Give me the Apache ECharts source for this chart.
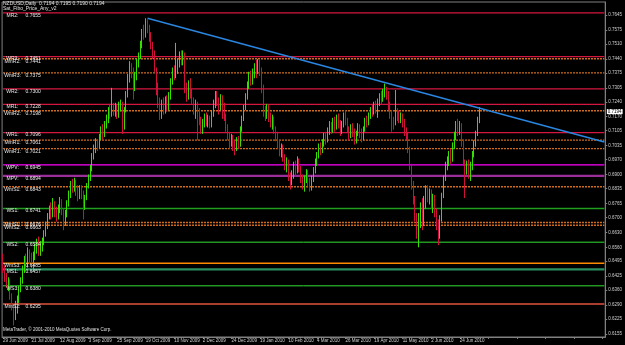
<!DOCTYPE html>
<html><head><meta charset="utf-8">
<script src="https://cdn.jsdelivr.net/npm/echarts@6/dist/echarts.min.js"></script>
<style>html,body{margin:0;padding:0;background:#000;}#c{width:625px;height:345px;}</style>
</head><body><div id="c"></div>
<script>
// Daily NZDUSD candles: [open, close, low, high]
const ohlc = [
[.6520,.6455,.6440,.6530],[.6455,.6420,.6398,.6475],[.6420,.6385,.6370,.6440],[.6385,.6400,.6355,.6420],[.6400,.6330,.6315,.6410],
[.6330,.6290,.6265,.6345],[.6290,.6250,.6195,.6300],[.6250,.6270,.6220,.6310],[.6270,.6320,.6250,.6335],[.6320,.6365,.6300,.6380],
[.6365,.6405,.6350,.6420],[.6405,.6460,.6390,.6475],[.6460,.6500,.6440,.6520],[.6500,.6475,.6450,.6530],[.6475,.6530,.6465,.6560],
[.6530,.6510,.6480,.6550],[.6510,.6460,.6445,.6535],[.6460,.6515,.6450,.6540],[.6515,.6555,.6500,.6575],[.6555,.6580,.6530,.6600],
[.6580,.6545,.6520,.6610],[.6545,.6560,.6520,.6590],[.6560,.6590,.6540,.6605],[.6590,.6625,.6570,.6640],[.6625,.6660,.6610,.6680],
[.6660,.6705,.6645,.6720],[.6705,.6740,.6690,.6755],[.6740,.6715,.6690,.6770],[.6715,.6760,.6700,.6790],[.6760,.6735,.6700,.6775],
[.6735,.6700,.6680,.6750],[.6700,.6745,.6690,.6760],[.6745,.6770,.6720,.6795],[.6770,.6730,.6710,.6785],[.6730,.6680,.6640,.6740],
[.6680,.6720,.6660,.6735],[.6720,.6765,.6700,.6780],[.6765,.6810,.6750,.6825],[.6810,.6855,.6790,.6870],[.6855,.6840,.6815,.6880],
[.6840,.6865,.6820,.6885],[.6865,.6830,.6800,.6875],[.6830,.6795,.6775,.6850],[.6795,.6835,.6785,.6850],[.6835,.6810,.6785,.6850],
[.6810,.6745,.6690,.6825],[.6745,.6790,.6735,.6805],[.6790,.6850,.6780,.6860],[.6850,.6885,.6835,.6900],[.6885,.6930,.6870,.6945],
[.6930,.6985,.6915,.7000],[.6985,.7020,.6970,.7040],[.7020,.7050,.7000,.7070],[.7050,.7030,.7010,.7065],[.7030,.7075,.7020,.7090],
[.7075,.7110,.7060,.7125],[.7110,.7085,.7060,.7135],[.7085,.7130,.7075,.7150],[.7130,.7160,.7115,.7180],[.7160,.7200,.7140,.7215],
[.7200,.7190,.7160,.7230],[.7190,.7220,.7170,.7305],[.7220,.7190,.7175,.7235],[.7190,.7215,.7170,.7235],[.7215,.7175,.7160,.7225],
[.7175,.7210,.7165,.7240],[.7210,.7230,.7195,.7250],[.7230,.7120,.7090,.7240],[.7120,.7200,.7110,.7215],[.7200,.7270,.7190,.7290],
[.7270,.7350,.7260,.7370],[.7350,.7400,.7330,.7430],[.7400,.7380,.7350,.7420],[.7380,.7300,.7250,.7400],[.7300,.7360,.7290,.7380],
[.7360,.7420,.7340,.7440],[.7420,.7455,.7400,.7470],[.7455,.7510,.7440,.7525],[.7510,.7570,.7490,.7580],[.7570,.7545,.7530,.7600],
[.7545,.7610,.7540,.7630],[.7610,.7580,.7560,.7625],[.7580,.7540,.7520,.7600],[.7540,.7500,.7485,.7565],[.7500,.7460,.7440,.7520],
[.7460,.7390,.7380,.7480],[.7390,.7320,.7270,.7400],[.7320,.7240,.7210,.7330],[.7240,.7180,.7155,.7260],[.7180,.7230,.7160,.7250],
[.7230,.7200,.7180,.7260],[.7200,.7240,.7185,.7265],[.7240,.7210,.7195,.7270],[.7210,.7260,.7200,.7285],[.7260,.7330,.7250,.7350],
[.7330,.7380,.7320,.7400],[.7380,.7360,.7340,.7410],[.7360,.7400,.7350,.7515],[.7400,.7420,.7370,.7440],[.7420,.7450,.7400,.7475],
[.7450,.7430,.7410,.7480],[.7430,.7460,.7410,.7480],[.7460,.7300,.7280,.7470],[.7300,.7270,.7240,.7330],[.7270,.7320,.7250,.7340],
[.7320,.7280,.7255,.7350],[.7280,.7250,.7230,.7300],[.7250,.7200,.7180,.7260],[.7200,.7230,.7160,.7250],[.7230,.7190,.7060,.7240],
[.7190,.7150,.7130,.7210],[.7150,.7110,.7090,.7170],[.7110,.7130,.7090,.7160],[.7130,.7170,.7120,.7185],[.7170,.7140,.7125,.7190],
[.7140,.7160,.7120,.7180],[.7160,.7130,.7115,.7175],[.7130,.7180,.7120,.7200],[.7180,.7230,.7170,.7250],[.7230,.7270,.7210,.7290],
[.7270,.7240,.7220,.7290],[.7240,.7210,.7180,.7260],[.7210,.7250,.7200,.7275],[.7250,.7220,.7160,.7270],[.7220,.7170,.7150,.7235],
[.7170,.7120,.7100,.7185],[.7120,.7080,.7060,.7135],[.7080,.7050,.7020,.7100],[.7050,.7070,.7030,.7090],[.7070,.7040,.7010,.7085],
[.7040,.7020,.6990,.7060],[.7020,.7060,.7010,.7075],[.7060,.7040,.7020,.7080],[.7040,.7110,.7030,.7125],[.7110,.7160,.7100,.7175],
[.7160,.7210,.7150,.7225],[.7210,.7260,.7200,.7280],[.7260,.7320,.7250,.7335],[.7320,.7360,.7300,.7380],[.7360,.7340,.7315,.7385],
[.7340,.7370,.7320,.7395],[.7370,.7400,.7350,.7420],[.7400,.7380,.7350,.7435],[.7380,.7420,.7370,.7440],[.7420,.7390,.7360,.7435],
[.7390,.7300,.7280,.7400],[.7300,.7200,.7170,.7320],[.7200,.7180,.7150,.7220],[.7180,.7210,.7160,.7230],[.7210,.7170,.7145,.7225],
[.7170,.7140,.7120,.7190],[.7140,.7160,.7110,.7180],[.7160,.7110,.7090,.7170],[.7110,.7080,.7055,.7125],[.7080,.7040,.7020,.7100],
[.7040,.7000,.6985,.7060],[.7000,.7030,.6980,.7045],[.7030,.6980,.6960,.7040],[.6980,.6940,.6920,.6995],[.6940,.6960,.6910,.6980],
[.6960,.6900,.6870,.6970],[.6900,.6860,.6830,.6910],[.6860,.6900,.6850,.6920],[.6900,.6940,.6880,.6960],[.6940,.6920,.6890,.6965],
[.6920,.6960,.6905,.6985],[.6960,.6930,.6910,.6975],[.6930,.6880,.6860,.6940],[.6880,.6850,.6830,.6900],[.6850,.6880,.6820,.6895],
[.6880,.6910,.6860,.6925],[.6910,.6870,.6845,.6920],[.6870,.6840,.6820,.6885],[.6840,.6880,.6825,.6895],[.6880,.6920,.6865,.6935],
[.6920,.6960,.6905,.6975],[.6960,.6990,.6940,.7005],[.6990,.7030,.6975,.7045],[.7030,.7010,.6990,.7050],[.7010,.7050,.7000,.7065],
[.7050,.7080,.7030,.7095],[.7080,.7060,.7040,.7100],[.7060,.7100,.7050,.7120],[.7100,.7130,.7085,.7150],[.7130,.7110,.7090,.7145],
[.7110,.7150,.7095,.7165],[.7150,.7120,.7100,.7170],[.7120,.7160,.7110,.7180],[.7160,.7140,.7115,.7185],[.7140,.7100,.7080,.7155],
[.7100,.7130,.7090,.7150],[.7130,.7170,.7120,.7190],[.7170,.7150,.7130,.7200],[.7150,.7110,.7095,.7165],[.7110,.7080,.7060,.7125],
[.7080,.7120,.7070,.7135],[.7120,.7100,.7075,.7140],[.7100,.7060,.7040,.7115],[.7060,.7090,.7045,.7105],[.7090,.7120,.7080,.7140],
[.7120,.7100,.7070,.7135],[.7100,.7070,.7050,.7115],[.7070,.7110,.7060,.7125],[.7110,.7150,.7100,.7165],[.7150,.7140,.7120,.7175],
[.7140,.7170,.7130,.7190],[.7170,.7200,.7160,.7215],[.7200,.7190,.7170,.7225],[.7190,.7220,.7180,.7240],[.7220,.7210,.7185,.7245],
[.7210,.7240,.7165,.7255],[.7240,.7260,.7220,.7280],[.7260,.7250,.7225,.7290],[.7250,.7280,.7240,.7300],[.7280,.7290,.7260,.7325],
[.7290,.7270,.7250,.7310],[.7270,.7220,.7200,.7290],[.7220,.7180,.7160,.7240],[.7180,.7150,.7100,.7200],[.7150,.7140,.7110,.7170],
[.7140,.7200,.7130,.7295],[.7200,.7180,.7150,.7210],[.7180,.7160,.7140,.7200],[.7160,.7175,.7140,.7190],[.7175,.7140,.7120,.7185],
[.7140,.7100,.7080,.7160],[.7100,.7080,.7060,.7120],[.7080,.7020,.7000,.7095],[.7020,.6940,.6920,.7030],[.6940,.6860,.6830,.6950],
[.6860,.6780,.6760,.6870],[.6780,.6700,.6680,.6800],[.6700,.6660,.6600,.6720],[.6660,.6700,.6560,.6720],[.6700,.6750,.6650,.6770],
[.6750,.6680,.6640,.6790],[.6680,.6760,.6660,.6800],[.6760,.6820,.6740,.6850],[.6820,.6790,.6770,.6850],[.6790,.6810,.6760,.6835],
[.6810,.6760,.6740,.6830],[.6760,.6790,.6720,.6810],[.6790,.6720,.6700,.6805],[.6720,.6680,.6640,.6740],[.6680,.6620,.6570,.6690],
[.6620,.6690,.6600,.6710],[.6690,.6800,.6680,.6815],[.6800,.6880,.6790,.6895],[.6880,.6940,.6870,.6960],[.6940,.6960,.6920,.6985],
[.6960,.6990,.6940,.7010],[.6990,.6970,.6950,.7020],[.6970,.7030,.6960,.7050],[.7030,.7080,.7020,.7100],[.7080,.7120,.7060,.7150],
[.7120,.7100,.7080,.7160],[.7100,.7130,.7085,.7150],[.7130,.7050,.7030,.7140],[.7050,.6960,.6940,.7060],[.6960,.6920,.6790,.6970],
[.6920,.6950,.6900,.6965],[.6950,.6900,.6880,.6970],[.6900,.6940,.6870,.6960],[.6940,.6990,.6920,.7010],[.6990,.7040,.6980,.7060],
[.7040,.7090,.7030,.7105],[.7090,.7150,.7080,.7170],[.7150,.7194,.7140,.7215]
];
// x-axis tick labels, one every 16 bars
const dateLabels = ['29 Jun 2009','21 Jul 2009','12 Aug 2009','3 Sep 2009','25 Sep 2009','19 Oct 2009','10 Nov 2009','2 Dec 2009','24 Dec 2009','19 Jan 2010','10 Feb 2010','4 Mar 2010','26 Mar 2010','19 Apr 2010','11 May 2010','2 Jun 2010','24 Jun 2010'];
const totalSlots = 338; // bars plus chart-shift space
const priceTicks = [0.7645,0.7575,0.7510,0.7440,0.7375,0.7305,0.7240,0.7170,0.7105,0.7035,0.6970,0.6900,0.6835,0.6765,0.6700,0.6630,0.6560,0.6495,0.6425,0.6360,0.6290,0.6225,0.6155];
// pivot levels
const levelNames  = ['MR2','WR3','MmR2','WmR3','WR2','MR1','WmR2','WR1','MmR1','WmR1','WPV','MPV','WmS1','WS1','MmS1','WmS2','WS2','WmS3','MS1','WS3','MmS2'];
const levelValues = [0.7655,0.7451,0.7441,0.7375,0.7300,0.7228,0.7198,0.7096,0.7061,0.7021,0.6945,0.6894,0.6843,0.6741,0.6676,0.6663,0.6584,0.6485,0.6457,0.6380,0.6295];
// trend line anchors [barIndex, price]
const trendPoints = [[81,0.7630],[337,0.7052]];
const lastPrice = 0.7194;
const titleText = 'NZDUSD,Daily  0.7194 0.7195 0.7190 0.7194';
const indicatorText = 'Sat_Fibo_Price_Any_v2';
const copyrightText = 'MetaTrader, \u00a9 2001-2010 MetaQuotes Software Corp.';

function levelStyle(n){
  if (n==='WPV') return {color:'#ff00ff', width:1.2, type:'solid'};
  if (n==='MPV') return {color:'#9a2f9a', width:2.2, type:'solid'};
  if (n==='WmS3') return {color:'#ff8c00', width:1.5, type:'solid'};
  if (n==='MmS2') return {color:'#e0553c', width:1.5, type:'solid'};
  if (/m/.test(n)) return {color:'#cf6a1e', width:1.3, type:[2,1]};
  if (n==='WS1') return {color:'#1f9e1f', width:1.6, type:'solid'};
  if (n==='MS1') return {color:'#2a9060', width:2.2, type:'solid'};
  if (/S/.test(n)) return {color:'#33e033', width:1, type:'solid'};
  return {color:'#d4173f', width:1.2, type:'solid'};
}

const cats = [];
for (let i=0;i<totalSlots;i++) cats.push(String(i));

const FONT = 'Liberation Sans';
// one line series per pivot level, spanning the whole x range, labelled at its left end
const levelSeries = levelNames.map((n,i)=>({
  type:'line', silent:true, symbol:'none', z:1,
  data:[[0, levelValues[i]],[totalSlots-1, levelValues[i]]],
  lineStyle: levelStyle(n),
  markPoint:{
    silent:true, symbol:'rect', symbolSize:1, itemStyle:{color:'rgba(0,0,0,0)'},
    data:[{coord:[0, levelValues[i]]}],
    label:{show:true, position:[1,0.5], align:'left', verticalAlign:'top',
      formatter: '{n|'+n+':}{v|'+levelValues[i].toFixed(4)+'}',
      rich:{
        n:{width:18, align:'right', fontSize:5, color:'#e8e8e8', fontFamily:FONT},
        v:{padding:[0,0,0,4], fontSize:5, color:'#e8e8e8', fontFamily:FONT}
      }
    }
  }
}));

const chart = echarts.init(document.getElementById('c'), null, {renderer:'canvas'});
chart.setOption({
  animation:false,
  backgroundColor:'#000000',
  title:[
    {text:titleText, subtext:indicatorText, left:3, top:1, itemGap:0, padding:0,
     textStyle:{fontSize:5, color:'#e0e0e0', fontWeight:'normal', fontFamily:FONT},
     subtextStyle:{fontSize:5, color:'#e0e0e0', fontFamily:FONT}},
    {text:copyrightText, left:3, top:327, padding:0,
     textStyle:{fontSize:4.5, color:'#e0e0e0', fontWeight:'normal', fontFamily:FONT}}
  ],
  grid:{left:2, right:17, top:2, bottom:8, show:true, borderColor:'#808080', borderWidth:1, backgroundColor:'#000000'},
  xAxis:{
    type:'category', data:cats, boundaryGap:true,
    axisLine:{lineStyle:{color:'#808080'}},
    axisTick:{show:true, interval:15, alignWithLabel:true, length:2, lineStyle:{color:'#808080'}},
    axisLabel:{interval:15, margin:1, align:'left', fontSize:4.5, color:'#d0d0d0', fontFamily:FONT,
      formatter:(v,idx)=> dateLabels[Math.round(idx/16)] || ''},
    splitLine:{show:false}
  },
  yAxis:{
    type:'value', position:'right', min:0.6141, max:0.7706,
    axisLine:{show:true, lineStyle:{color:'#808080'}},
    axisTick:{show:true, length:2, customValues:priceTicks, lineStyle:{color:'#808080'}},
    axisLabel:{customValues:priceTicks, margin:3, fontSize:4.5, color:'#d0d0d0', fontFamily:FONT,
      formatter:v=>v.toFixed(4)},
    splitLine:{show:false}
  },
  series:[
    ...levelSeries,
    {type:'candlestick', data:ohlc, barWidth:1.3, z:3,
     itemStyle:{color:'#33e000', color0:'#d0103a', borderColor:'#33e000', borderColor0:'#d0103a', borderWidth:1},
     markPoint:{silent:true, symbol:'rect', symbolSize:1, itemStyle:{color:'rgba(0,0,0,0)'},
       data:[{coord:[totalSlots-1, lastPrice]}],
       label:{show:true, position:'right', distance:2, formatter:lastPrice.toFixed(4),
         backgroundColor:'#ffffff', color:'#000000', fontSize:4.5, padding:[0,1,0,1], fontFamily:FONT}}
    },
    {type:'line', data:trendPoints, symbol:'none', silent:true, z:4,
     lineStyle:{color:'#2a86e0', width:1.5}}
  ]
});
</script></body></html>
